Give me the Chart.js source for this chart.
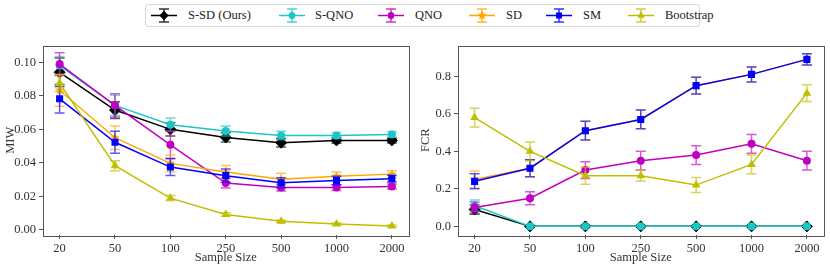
<!DOCTYPE html>
<html>
<head>
<meta charset="utf-8">
<script src="https://cdn.jsdelivr.net/npm/chart.js@4"></script>
<style>
  body { margin: 0; background: #fff; width: 830px; height: 269px; position: relative; overflow: hidden; font-family: "Liberation Serif", serif; }
  .panel { position: absolute; top: 35px; width: 415px; height: 234px; }
  #legend { position: absolute; left: 145px; top: 4px; width: 555px; height: 23px; border: 1px solid #d8d8d8; border-radius: 3px; box-sizing: border-box; }
  #legend canvas { position: absolute; top: 0; }
  #legend span { position: absolute; top: 3px; font-size: 12.5px; color: #222; white-space: nowrap; }
</style>
</head>
<body>
<div id="legend"></div>
<div class="panel" style="left:0"><canvas id="miwChart" width="415" height="234"></canvas></div>
<div class="panel" style="left:415px"><canvas id="fcrChart" width="415" height="234"></canvas></div>
<script>
// ═══════════════ DATA ═══════════════

const sampleSizes = ['20', '50', '100', '250', '500', '1000', '2000'];
const methods = ['S-SD (Ours)', 'S-QNO', 'QNO', 'SD', 'SM', 'Bootstrap'];
const colors = ['#000000', '#1cc6c6', '#c000c0', '#ffa500', '#0000ff', '#bfbf00'];

const miwTicks = [0.00, 0.02, 0.04, 0.06, 0.08, 0.10];
const fcrTicks = [0.0, 0.2, 0.4, 0.6, 0.8];

// MIW (left panel)
const miwSSD       = [0.0940, 0.0715, 0.0600, 0.0552, 0.0520, 0.0534, 0.0534];
const miwSSDErr    = [0.0085, 0.0050, 0.0040, 0.0028, 0.0025, 0.0017, 0.0015];
const miwSQNO      = [0.0980, 0.0743, 0.0628, 0.0590, 0.0563, 0.0563, 0.0570];
const miwSQNOErr   = [0.0055, 0.0060, 0.0040, 0.0030, 0.0025, 0.0018, 0.0017];
const miwQNO       = [0.0989, 0.0743, 0.0508, 0.0280, 0.0253, 0.0253, 0.0259];
const miwQNOErr    = [0.0068, 0.0070, 0.0080, 0.0030, 0.0020, 0.0017, 0.0015];
const miwSD        = [0.0833, 0.0550, 0.0397, 0.0345, 0.0303, 0.0320, 0.0333];
const miwSDErr     = [0.0095, 0.0070, 0.0050, 0.0040, 0.0035, 0.0025, 0.0020];
const miwSM        = [0.0782, 0.0523, 0.0375, 0.0324, 0.0282, 0.0295, 0.0306];
const miwSMErr     = [0.0085, 0.0065, 0.0050, 0.0040, 0.0030, 0.0025, 0.0020];
const miwBoot      = [0.0876, 0.0383, 0.0190, 0.0092, 0.0052, 0.0035, 0.0023];
const miwBootErr   = [0.0050, 0.0030, 0.0015, 0.0010, 0.0008, 0.0007, 0.0006];

// FCR (right panel)
const fcrSSD       = [0.09, 0.00, 0.00, 0.00, 0.00, 0.00, 0.00];
const fcrSSDErr    = [0.025, 0, 0, 0, 0, 0, 0];
const fcrSQNO      = [0.11, 0.00, 0.00, 0.00, 0.00, 0.00, 0.00];
const fcrSQNOErr   = [0.030, 0, 0, 0, 0, 0, 0];
const fcrQNO       = [0.10, 0.15, 0.30, 0.35, 0.38, 0.44, 0.35];
const fcrQNOErr    = [0.030, 0.035, 0.045, 0.050, 0.050, 0.050, 0.050];
const fcrSD        = [0.25, 0.31, 0.51, 0.57, 0.75, 0.81, 0.89];
const fcrSDErr     = [0.045, 0.045, 0.050, 0.050, 0.045, 0.040, 0.030];
const fcrSM        = [0.24, 0.31, 0.51, 0.57, 0.75, 0.81, 0.89];
const fcrSMErr     = [0.040, 0.045, 0.050, 0.050, 0.045, 0.040, 0.030];
const fcrBoot      = [0.58, 0.40, 0.27, 0.27, 0.22, 0.33, 0.71];
const fcrBootErr   = [0.050, 0.050, 0.045, 0.030, 0.040, 0.050, 0.045];

// ═══════════════ MARKERS ═══════════════

function makeStar(color, r) {
    const c = document.createElement('canvas');
    c.width = c.height = r * 2 + 2;
    const g = c.getContext('2d');
    g.beginPath();
    for (let k = 0; k < 10; k++) {
        const rad = k % 2 === 0 ? r : r * 0.45;
        const a = -Math.PI / 2 + k * Math.PI / 5;
        g.lineTo(r + 1 + rad * Math.cos(a), r + 1 + rad * Math.sin(a));
    }
    g.closePath();
    g.fillStyle = color;
    g.fill();
    return c;
}

const pointStyles = ['rectRot', 'circle', 'circle', makeStar('#ffa500', 5), 'rect', 'triangle'];
const pointRadii = [5.5, 4, 4, 5, 5, 5];

// ═══════════════ PLUGINS ═══════════════

const errorBarPlugin = {
    id: 'errorBars',
    beforeDatasetDraw(chart, args) {
        const ds = chart.data.datasets[args.index];
        if (!ds.errors) return;
        const meta = args.meta;
        const y = chart.scales.y;
        const ctx = chart.ctx;
        ctx.save();
        ctx.strokeStyle = ds.borderColor;
        ctx.globalAlpha = 0.65;
        ctx.lineWidth = 1.5;
        meta.data.forEach((pt, i) => {
            const e = ds.errors[i];
            if (!e) return;
            const v = ds.data[i].y;
            const top = y.getPixelForValue(v + e);
            const bot = y.getPixelForValue(v - e);
            ctx.beginPath();
            ctx.moveTo(pt.x, top); ctx.lineTo(pt.x, bot);
            ctx.moveTo(pt.x - 5, top); ctx.lineTo(pt.x + 5, top);
            ctx.moveTo(pt.x - 5, bot); ctx.lineTo(pt.x + 5, bot);
            ctx.stroke();
        });
        ctx.restore();
    }
};

const framePlugin = {
    id: 'frame',
    afterDraw(chart) {
        const a = chart.chartArea;
        const ctx = chart.ctx;
        ctx.save();
        ctx.strokeStyle = '#555';
        ctx.lineWidth = 1;
        ctx.strokeRect(Math.round(a.left) + 0.5, Math.round(a.top) + 0.5,
            Math.round(a.right - a.left), Math.round(a.bottom - a.top));
        ctx.restore();
    }
};

// ═══════════════ CHARTS ═══════════════

function createPanel(canvasId, seriesList, errList, yTicks, yMin, yMax, yLabel, decimals, padRight) {
    const datasets = seriesList.map((vals, s) => ({
        label: methods[s],
        data: vals.map((v, i) => ({ x: i, y: v })),
        errors: errList[s],
        borderColor: colors[s],
        backgroundColor: colors[s],
        borderWidth: 1.5,
        pointStyle: pointStyles[s],
        pointRadius: pointRadii[s],
        pointBorderWidth: s === 0 ? 1 : 0,
        pointBorderColor: colors[s],
        tension: 0,
        order: seriesList.length - s
    }));

    const font = { family: '"Liberation Serif", serif', size: 12.5 };

    new Chart(document.getElementById(canvasId), {
        type: 'line',
        data: { datasets },
        options: {
            responsive: false,
            animation: false,
            layout: { padding: { top: 3, right: padRight, left: 0, bottom: 0 } },
            plugins: { legend: { display: false }, tooltip: { enabled: false } },
            scales: {
                x: {
                    type: 'linear',
                    min: -0.3, max: 6.3,
                    afterBuildTicks: sc => { sc.ticks = sampleSizes.map((_, i) => ({ value: i })); },
                    afterFit: sc => { sc.height = 34; },
                    ticks: { callback: v => sampleSizes[v], color: '#333', font, padding: 2, maxRotation: 0 },
                    grid: { drawOnChartArea: false, tickLength: 4, color: '#555' },
                    border: { display: false },
                    title: { display: true, text: 'Sample Size', color: '#333', font, padding: { top: 0, bottom: 4 } }
                },
                y: {
                    min: yMin, max: yMax,
                    afterBuildTicks: sc => { sc.ticks = yTicks.map(v => ({ value: v })); },
                    afterFit: sc => { sc.width = 43; },
                    ticks: { callback: v => v.toFixed(decimals), color: '#333', font, padding: 3 },
                    grid: { drawOnChartArea: false, tickLength: 4, color: '#555' },
                    border: { display: false },
                    title: { display: true, text: yLabel, color: '#333', font, padding: { top: 3, bottom: 0 } }
                }
            }
        },
        plugins: [errorBarPlugin, framePlugin]
    });
}

createPanel('miwChart',
    [miwSSD, miwSQNO, miwQNO, miwSD, miwSM, miwBoot],
    [miwSSDErr, miwSQNOErr, miwQNOErr, miwSDErr, miwSMErr, miwBootErr],
    miwTicks, -0.003, 0.110, 'MIW', 2, 3);

createPanel('fcrChart',
    [fcrSSD, fcrSQNO, fcrQNO, fcrSD, fcrSM, fcrBoot],
    [fcrSSDErr, fcrSQNOErr, fcrQNOErr, fcrSDErr, fcrSMErr, fcrBootErr],
    fcrTicks, -0.046, 0.964, 'FCR', 1, 5);

// ═══════════════ LEGEND ═══════════════

const legendSymbolX = [18, 146, 245, 336, 413, 495];
const legendTextX = [42, 169, 269, 360, 437, 519];

const legendEl = document.getElementById('legend');
methods.forEach((name, s) => {
    const c = document.createElement('canvas');
    c.width = 30; c.height = 21;
    c.style.left = (legendSymbolX[s] - 15) + 'px';
    const g = c.getContext('2d');
    g.strokeStyle = colors[s];
    g.fillStyle = colors[s];
    g.lineWidth = 1.5;
    g.beginPath(); g.moveTo(2, 10.5); g.lineTo(28, 10.5); g.stroke();
    g.globalAlpha = 0.8;
    g.beginPath();
    g.moveTo(15, 4); g.lineTo(15, 17);
    g.moveTo(10, 4); g.lineTo(20, 4);
    g.moveTo(10, 17); g.lineTo(20, 17);
    g.stroke();
    g.globalAlpha = 1;
    const style = pointStyles[s];
    if (typeof style !== 'string') {
        g.drawImage(style, 15 - style.width / 2, 10.5 - style.height / 2);
    } else {
        Chart.helpers.drawPoint(g, { pointStyle: style, radius: pointRadii[s] * 0.8, borderWidth: 0 }, 15, 10.5);
        g.fill();
    }
    legendEl.appendChild(c);
    const t = document.createElement('span');
    t.textContent = name;
    t.style.left = legendTextX[s] + 'px';
    legendEl.appendChild(t);
});
</script>
</body>
</html>
